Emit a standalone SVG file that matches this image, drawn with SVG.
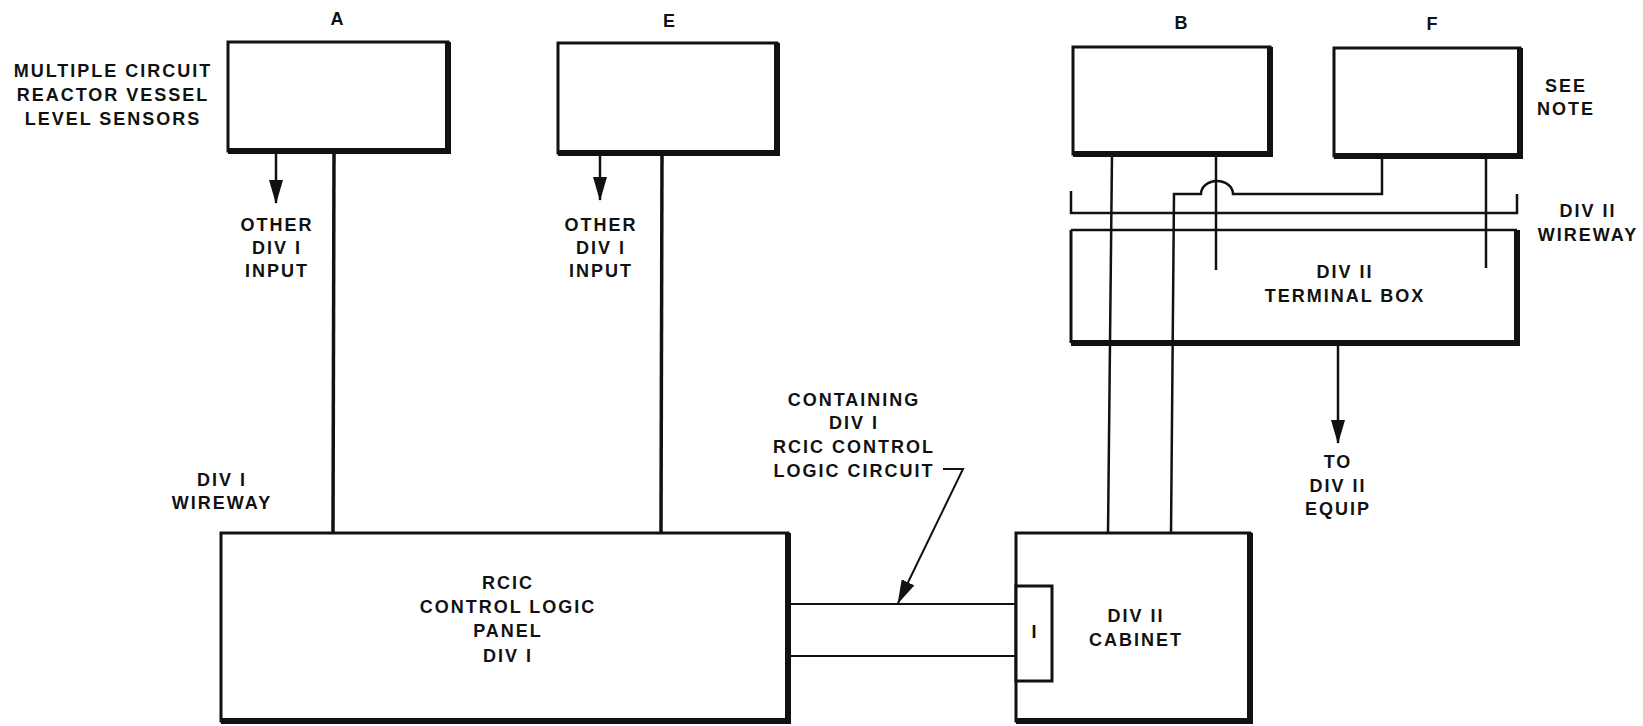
<svg xmlns="http://www.w3.org/2000/svg" width="1643" height="726" viewBox="0 0 1643 726">
<style>
  text { font-family: "Liberation Sans", Arial, sans-serif; font-weight: bold; font-size: 18px; letter-spacing: 2px; fill: #111; text-anchor: middle; }
  .lbl { font-size: 18px; letter-spacing: 0; }
  .box { fill: #fff; stroke: #111; stroke-width: 3; }
  .sh { fill: none; stroke: #111; stroke-width: 6; stroke-linejoin: miter; }
  .w { fill: none; stroke: #111; stroke-width: 3.5; }
  .t { fill: none; stroke: #111; stroke-width: 2.5; }
  .th { fill: none; stroke: #111; stroke-width: 2; }
</style>
<defs>
  <marker id="ah" viewBox="0 0 24 14" markerWidth="24" markerHeight="14" refX="23" refY="7" orient="auto" markerUnits="userSpaceOnUse">
    <path d="M0,0 L24,7 L0,14 Z" fill="#111"/>
  </marker>
</defs>
<rect width="1643" height="726" fill="#fff"/>

<g id="connectors">
  <line class="w" x1="334" y1="152" x2="333" y2="533"/>
  <line class="w" x1="662" y1="154" x2="661" y2="533"/>
  <line class="t" x1="276" y1="152" x2="276" y2="203" marker-end="url(#ah)"/>
  <line class="t" x1="600" y1="154" x2="600" y2="200" marker-end="url(#ah)"/>
  <line class="t" x1="1112" y1="154" x2="1108" y2="533"/>
  <line class="t" x1="1216" y1="154" x2="1216" y2="270"/>
  <path class="t" d="M1382,156 V194 H1233 A16,13 0 0 0 1201,194 H1174 L1171,533"/>
  <line class="t" x1="1486" y1="156" x2="1486" y2="268"/>
  <line class="t" x1="1338" y1="346" x2="1338" y2="443" marker-end="url(#ah)"/>
  <line class="th" x1="788" y1="604" x2="1016" y2="604"/>
  <line class="th" x1="788" y1="656" x2="1016" y2="656"/>
  <path class="th" d="M943,469 H963 L898,603" marker-end="url(#ah)"/>
</g>

<g id="div1-wireway-label">
  <text x="222" y="486">DIV I</text>
  <text x="222" y="509">WIREWAY</text>
</g>

<g id="sensors-label">
  <text x="113" y="77">MULTIPLE CIRCUIT</text>
  <text x="113" y="101">REACTOR VESSEL</text>
  <text x="113" y="125">LEVEL SENSORS</text>
</g>

<g id="box-a">
  <rect class="box" x="228" y="42" width="220" height="109"/>
  <path class="sh" d="M448,42 V151 H228"/>
  <text class="lbl" x="337" y="25">A</text>
</g>

<g id="other-a">
  <text x="277" y="231">OTHER</text>
  <text x="277" y="254">DIV I</text>
  <text x="277" y="277">INPUT</text>
</g>

<g id="box-e">
  <rect class="box" x="558" y="43" width="219" height="110"/>
  <path class="sh" d="M777,43 V153 H558"/>
  <text class="lbl" x="669" y="27">E</text>
</g>

<g id="other-e">
  <text x="601" y="231">OTHER</text>
  <text x="601" y="254">DIV I</text>
  <text x="601" y="277">INPUT</text>
</g>

<g id="box-b">
  <rect class="box" x="1073" y="47" width="197" height="107"/>
  <path class="sh" d="M1270,47 V154 H1073"/>
  <text class="lbl" x="1181" y="29">B</text>
</g>

<g id="box-f">
  <rect class="box" x="1334" y="48" width="186" height="108"/>
  <path class="sh" d="M1520,48 V156 H1334"/>
  <text class="lbl" x="1432" y="30">F</text>
</g>

<g id="see-note">
  <text x="1566" y="92">SEE</text>
  <text x="1566" y="115">NOTE</text>
</g>

<g id="div2-wireway">
  <path class="t" d="M1071,191 V213 H1517 V194"/>
  <text x="1588" y="217">DIV II</text>
  <text x="1588" y="241">WIREWAY</text>
</g>

<g id="terminal-box">
  <path class="t" d="M1071,230 H1517"/>
  <path class="box" d="M1071,230 V343" fill="none"/>
  <path class="sh" d="M1517,230 V343 H1071"/>
  <text x="1345" y="278">DIV II</text>
  <text x="1345" y="302">TERMINAL BOX</text>
</g>

<g id="to-div2-equip">
  <text x="1338" y="468">TO</text>
  <text x="1338" y="492">DIV II</text>
  <text x="1338" y="515">EQUIP</text>
</g>

<g id="containing-label">
  <text x="854" y="406">CONTAINING</text>
  <text x="854" y="429">DIV I</text>
  <text x="854" y="453">RCIC CONTROL</text>
  <text x="854" y="477">LOGIC CIRCUIT</text>
</g>

<g id="panel">
  <rect class="box" x="221" y="533" width="567" height="188"/>
  <path class="sh" d="M788,533 V721 H221"/>
  <text x="508" y="589">RCIC</text>
  <text x="508" y="613">CONTROL LOGIC</text>
  <text x="508" y="637">PANEL</text>
  <text x="508" y="662">DIV I</text>
</g>

<g id="cabinet">
  <rect class="box" x="1016" y="533" width="234" height="188"/>
  <path class="sh" d="M1250,533 V721 H1016"/>
  <text x="1136" y="622">DIV II</text>
  <text x="1136" y="646">CABINET</text>
</g>

<g id="cabinet-port">
  <rect class="box" x="1016" y="586" width="36" height="95"/>
  <text class="lbl" x="1034" y="638">I</text>
</g>
</svg>
